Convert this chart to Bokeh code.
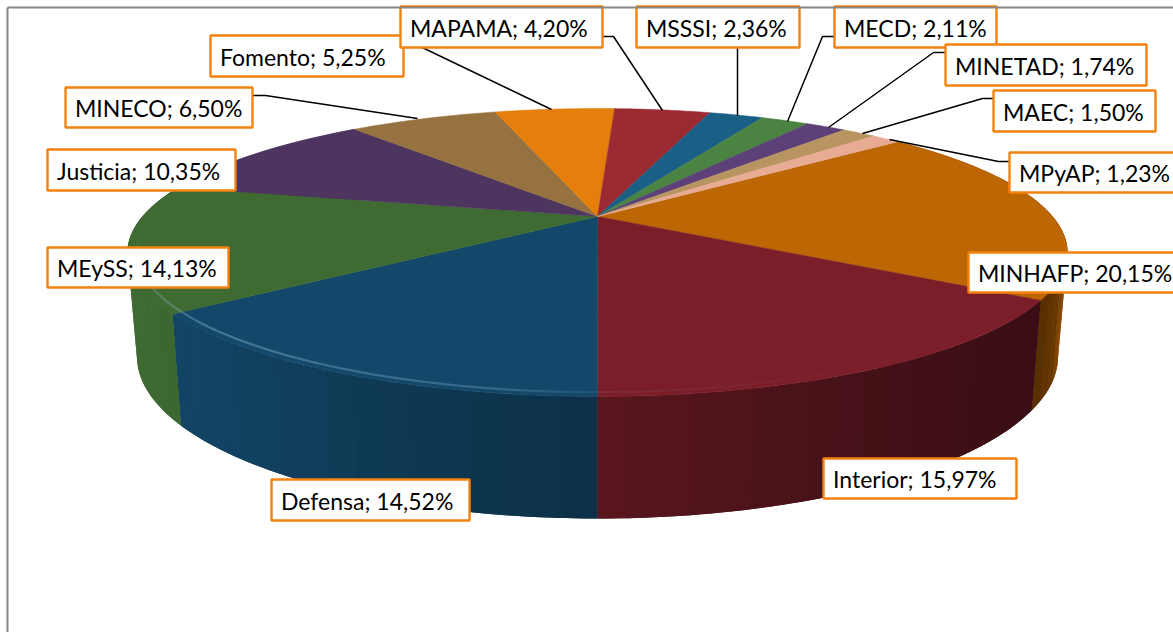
import numpy as np
from bokeh.plotting import figure
from bokeh.models import Range1d
from bokeh.core.properties import value
from bokeh.embed import file_html
from bokeh.resources import INLINE

names = ["MINHAFP","Interior","Defensa","MEySS","Justicia","MINECO","Fomento","MAPAMA","MSSSI","MECD","MINETAD","MAEC","MPyAP"]
shares = [20.15,15.97,14.52,14.13,10.35,6.50,5.25,4.20,2.36,2.11,1.74,1.50,1.23]
colors = ["#BD6604","#7B1E2A","#13486A","#3F6B33","#4E3560","#957240","#E57E0B","#9B2A33","#195F86","#4B8442","#5E4079","#B89560","#E8AB94"]

# label boxes: left, right, top, bottom in page pixels (draw order = stacking order)
box_left   = [968,823,271,47,47,65,210,400,636,834,945,993,1009]
box_right  = [1185,1016,469,228,235,252,403,602,799,996,1146,1155,1185]
box_top    = [252,458,479,247,149,87,35,6,6,6,44,90,152]
box_bottom = [292,498,520,287,190,127,76,47,47,47,85,131,192]
leader_x = [[],[],[],[],[],[252,265,417],[403,551],[602,613,662],[737,737],[834,822,787],[945,933,828],[993,982,862],[1009,998,889]]
leader_y = [[],[],[],[],[],[95,95,118],[38,109],[36,36,110],[47,115],[36,36,121],[52,52,127],[98,98,133],[161,161,139]]

CX, CY = 597.0, 216.0
R, H, K = 455.0, 135.0, 0.25
START = 50.0
Y0, A, XS = 315.5, 1.125, 0.98
shade_x = [125,181,400,590,600,800,1030,1045,1058,1068]
shade_f = [1.0,0.95,0.78,0.68,0.72,0.60,0.47,0.47,0.55,0.8]

def top_pt(deg, r=1.0):
    t = np.radians(deg)
    u, v = r*np.sin(t), r*np.cos(t)
    s = 1/(1+K*v)
    return CX+R*u*s, CY-H*v*s

def bot_pt(deg):
    x, y = top_pt(deg)
    return CX+XS*(x-CX), Y0+A*(y-CY)

def rgb(c):
    return np.array([int(c[i:i+2],16) for i in (1,3,5)], float)

def hexc(a):
    a = np.clip(a,0,255).round().astype(int)
    return "#%02x%02x%02x" % tuple(a)

total = sum(shares)
edges = START + np.concatenate([[0],np.cumsum(shares)])*360/total

p = figure(width=1173, height=632, output_backend="svg", toolbar_location=None,
           x_range=Range1d(0,1173), y_range=Range1d(632,0),
           x_axis_location=None, y_axis_location=None, min_border=0,
           outline_line_color=None, background_fill_color="white", border_fill_color="white")
p.grid.visible = False

# side walls: a solid underlay per slice, then strips so the shading follows the rim
for i, c in enumerate(colors):
    a0, a1 = edges[i], edges[i+1]
    sub = np.linspace(a0,a1,max(3,int(a1-a0)+1))
    tp = [top_pt(g) for g in sub]
    bp = [bot_pt(g) for g in sub[::-1]]
    f = np.interp((tp[0][0]+tp[-1][0])/2, shade_x, shade_f)
    if np.cos(np.radians((a0+a1)/2)) > 0.6:
        continue
    p.patch([q[0] for q in tp+bp],[q[1] for q in tp+bp],fill_color=hexc(rgb(c)*f),line_color=None)

wx, wy, wc = [], [], []
for i, c in enumerate(colors):
    a0, a1 = edges[i], edges[i+1]
    n = max(1,int((a1-a0)/3))
    grid = np.linspace(a0,a1,n+1)
    for g0, g1 in zip(grid[:-1],grid[1:]):
        if np.cos(np.radians(g0)) > 0.35 and np.cos(np.radians(g1)) > 0.35:
            continue
        sub = np.linspace(g0,g1,5)
        tp = [top_pt(g) for g in sub]
        bp = [bot_pt(g) for g in sub[::-1]]
        f = np.interp((tp[0][0]+tp[-1][0])/2, shade_x, shade_f)
        wx.append([q[0] for q in tp+bp]); wy.append([q[1] for q in tp+bp])
        wc.append(hexc(rgb(c)*f))
p.patches(wx, wy, fill_color=wc, line_color=None)

# top face
for i, c in enumerate(colors):
    grid = np.linspace(edges[i],edges[i+1],max(3,int(edges[i+1]-edges[i])*2))
    pts = [top_pt(g) for g in grid]
    xs = [CX]+[q[0] for q in pts]
    ys = [CY]+[q[1] for q in pts]
    p.patch(xs, ys, fill_color=c, line_color=c, line_width=0.5)

# soft bevel along the front rim
for i, c in enumerate(colors):
    grid = np.linspace(edges[i],edges[i+1],max(3,int((edges[i+1]-edges[i])/1.5)+1))
    bx, by, bc = [], [], []
    for g0, g1 in zip(grid[:-1],grid[1:]):
        m = (g0+g1)/2 % 360
        if not 112 < m < 262:
            continue
        strength = np.interp(m,[112,160,180,190,225,245,262],[0.0,0.03,0.08,0.28,0.40,0.2,0.0])
        base = rgb(c)
        x0,y0 = top_pt(g0,0.982); x1,y1 = top_pt(g1,0.982)
        bx.append([x0,x1]); by.append([y0,y1])
        bc.append(hexc(base+(np.array([150,190,220])-base)*strength))
    if bx:
        p.multi_line(bx, by, line_color=bc, line_width=2.2)

# leader lines
lx = [a for a in leader_x if a]
ly = [a for a in leader_y if a]
p.multi_line(lx, ly, line_color="#000000", line_width=1.5)

# label boxes and texts
p.quad(left=box_left, right=box_right, top=box_top, bottom=box_bottom,
       fill_color="white", line_color="#F4820F", line_width=2.4)
labels = [f"{n}; {s:.2f}%".replace(".",",") for n, s in zip(names, shares)]
p.text([l+9.5 for l in box_left], [(t+b)/2+0.5 for t,b in zip(box_top,box_bottom)], text=labels,
       text_font=value("Lato"), text_font_size="23px", text_color="#000000",
       text_align="left", text_baseline="middle")

# chart frame
p.multi_line([[7,7],[7,1173]], [[632,7],[7,7]], line_color="#868686", line_width=2)

open("out.html","w").write(file_html(p, INLINE))
